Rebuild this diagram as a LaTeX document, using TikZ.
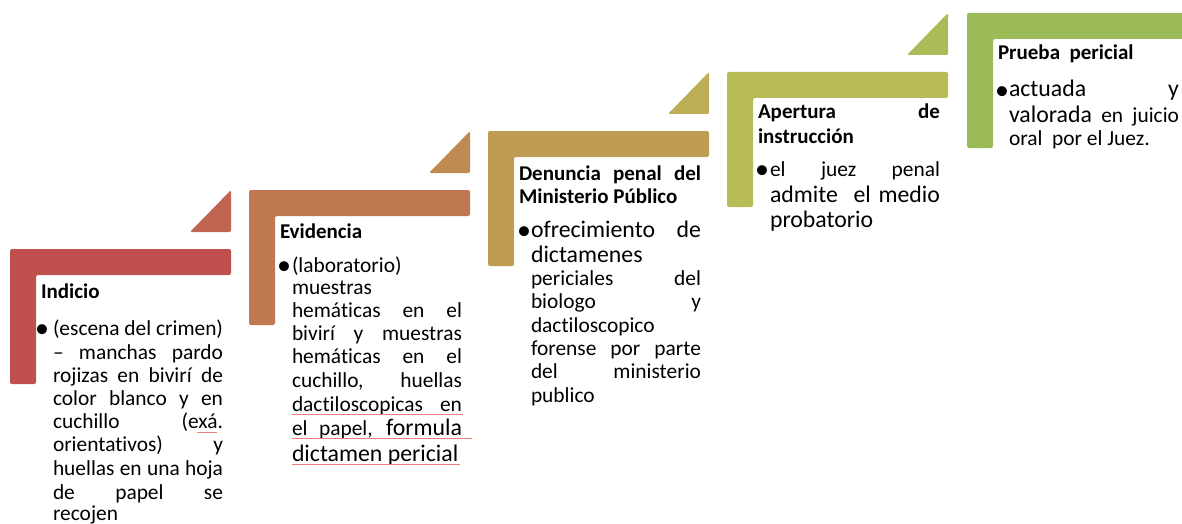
\documentclass[tikz,border=0pt]{standalone}
\usepackage{fontspec}
\setmainfont{Carlito}[Ligatures=NoCommon]
\definecolor{cA}{RGB}{192,80,77}
\definecolor{tA}{RGB}{192,101,80}
\definecolor{cB}{RGB}{192,120,81}
\definecolor{tB}{RGB}{191,139,82}
\definecolor{cC}{RGB}{190,156,83}
\definecolor{tC}{RGB}{189,173,85}
\definecolor{cD}{RGB}{184,188,87}
\definecolor{tD}{RGB}{170,188,88}
\definecolor{cE}{RGB}{155,187,89}
\definecolor{spell}{RGB}{240,125,125}
\newcommand\SmF{\fontsize{21.4}{24}\selectfont}
\newcommand\BgF{\fontsize{23.8}{27}\selectfont}
\newcommand\TtF{\fontsize{21}{24}\selectfont\bfseries}
\newcommand\stepL[3]{\fill[#3,rounded corners=2pt] (#1,#2) -- ++(221,0) -- ++(0,26) -- ++(-195,0) -- ++(0,109) -- ++(-26,0) -- cycle;}
\newcommand\stepT[4]{\fill[#4,rounded corners=1.5pt] (#1,#2) -- (#1,#3) -- ({#1-41},#3) -- cycle;}
\newcommand\Jl[4]{\node[txt] (#1) at (#2,#3) {\makebox[170pt][s]{#4}};}
\newcommand\Jt[4]{\node[txt] (#1) at (#2,#3) {\makebox[182pt][s]{#4}};}
\newcommand\Ll[4]{\node[txt] (#1) at (#2,#3) {#4};}
\newcommand\Bl[3]{\node[bul] (#1) at (#2,#3) {\raisebox{-2.2pt}{•}};}
\tikzset{
  txt/.style={anchor=base west, inner sep=0pt, outer sep=0pt, font=\SmF},
  bul/.style={anchor=base, inner sep=0pt, outer sep=0pt, font=\fontsize{28}{28}\selectfont},
  spl/.style={draw=spell, line width=0.8pt}
}
\begin{document}
\begin{tikzpicture}[x=1pt,y=-1pt]
\useasboundingbox (0,0) rectangle (1182,524);
% shapes
\stepL{10}{249}{cA}
\stepT{231}{190}{232}{tA}
\stepL{249}{190}{cB}
\stepT{470}{131}{173}{tB}
\stepL{488}{131}{cC}
\stepT{709}{72}{114}{tC}
\stepL{727}{72}{cD}
\stepT{948}{13}{55}{tD}
\stepL{967}{13}{cE}
% step 1
\Ll{t1}{41}{298}{\TtF Indicio}
\Bl{b1}{42}{335}
\Jl{a1}{53}{335}{(escena del crimen)}
\Jl{a2}{53}{359}{– manchas pardo}
\Jl{a3}{53}{382}{rojizas en bivirí de}
\Jl{a4}{53}{405}{color blanco y en}
\Jl{a5}{53}{428}{cuchillo (exá.}
\Jl{a6}{53}{451}{orientativos) y}
\Jl{a7}{53}{475}{huellas en una hoja}
\Jl{a8}{53}{499}{de papel se}
\Ll{a9}{53}{520}{recojen}
% step 2
\Ll{t2}{280}{238}{\TtF Evidencia}
\Bl{b2}{284}{272}
\Ll{e1}{292}{272}{(laboratorio)}
\Ll{e2}{292}{294}{muestras}
\Jl{e3}{292}{317}{hemáticas en el}
\Jl{e4}{292}{340}{bivirí y muestras}
\Jl{e5}{292}{363}{hemáticas en el}
\Jl{e6}{292}{387}{cuchillo, huellas}
\Jl{e7}{292}{411}{dactiloscopicas en}
\Jl{e8}{292}{435}{el papel, {\BgF formula}}
\Ll{e9}{292}{461}{\BgF dictamen pericial}
% step 3
\Jt{t3}{519}{180}{\TtF Denuncia penal del}
\Ll{t3b}{519}{203}{\TtF Ministerio Público}
\Bl{b3}{524}{237}
\Jl{d1}{531}{237}{\BgF ofrecimiento de}
\Ll{d2}{531}{262}{\BgF dictamenes}
\Jl{d3}{531}{285}{periciales del}
\Jl{d4}{531}{308}{biologo y}
\Ll{d5}{531}{332}{dactiloscopico}
\Jl{d6}{531}{355}{forense por parte}
\Jl{d7}{531}{378}{del ministerio}
\Ll{d8}{531}{402}{publico}
% step 4
\Jt{t4}{758}{119}{\TtF Apertura de}
\Ll{t4b}{758}{143}{\TtF instrucción}
\Bl{b4}{762}{176}
\Jl{f1}{770}{176}{el juez penal}
\Jl{f2}{770}{202}{\BgF admite\ \ el medio}
\Ll{f3}{770}{227}{\BgF probatorio}
% step 5
\Ll{t5}{998}{60}{\TtF Prueba\ \ pericial}
\Bl{b5}{1002}{97}
\Jl{g1}{1009}{97}{\BgF actuada y}
\Jl{g2}{1009}{122}{{\BgF valorada} en juicio}
\Ll{g3}{1009}{146}{oral\ \ por el Juez.}
% spell-check marks
\draw[spl] (197,432) -- (217,432);
\draw[spl] (292,414) -- (463,414);
\draw[spl] (292,438) -- (472,438);
\draw[spl] (292,464) -- (460,464);
\end{tikzpicture}
\end{document}
